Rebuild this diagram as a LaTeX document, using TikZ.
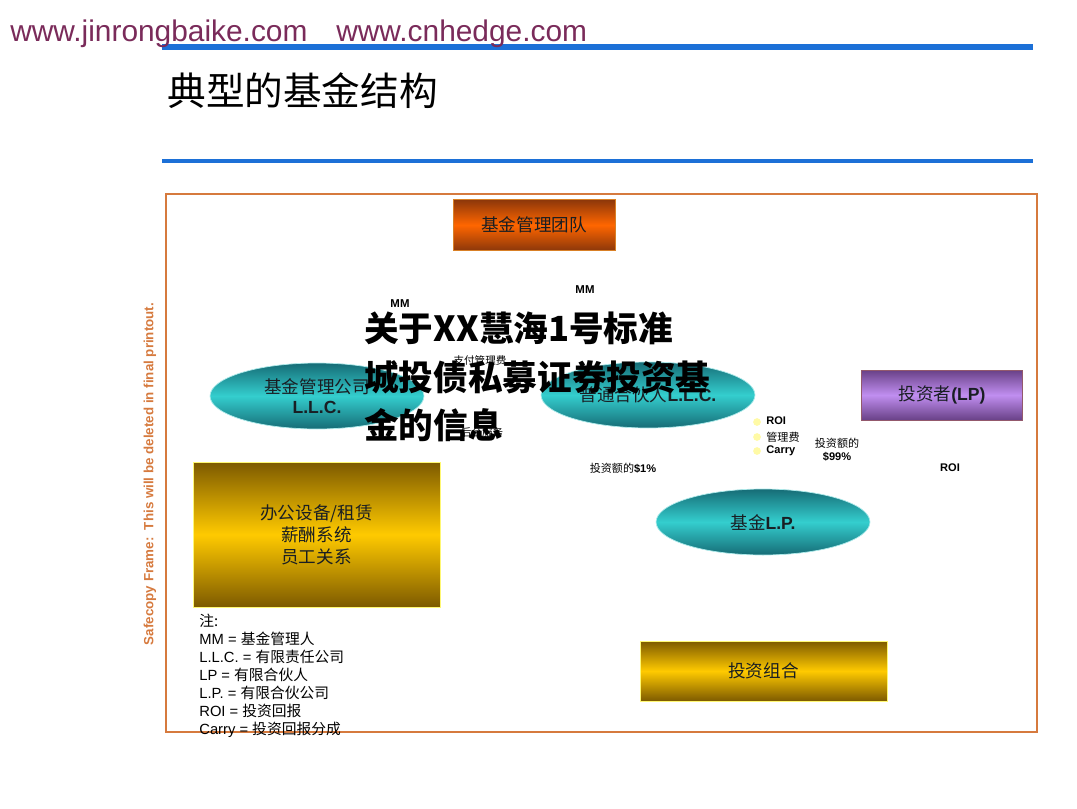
\documentclass[tikz,border=0pt]{standalone}
\usepackage{fontspec}
\setmainfont{Liberation Sans}
\newfontfamily\cjk{Noto Sans CJK SC}
\usetikzlibrary{shapes.geometric}

\definecolor{urlpurple}{RGB}{122,43,90}
\definecolor{lineblue}{RGB}{28,112,215}
\definecolor{frameorange}{RGB}{214,122,62}
\definecolor{tealdark}{RGB}{22,108,118}
\definecolor{teallight}{RGB}{52,206,206}
\definecolor{golddark}{RGB}{125,90,0}
\definecolor{goldlight}{RGB}{255,202,0}
\definecolor{orangedark}{RGB}{140,55,10}
\definecolor{orangelight}{RGB}{255,102,0}
\definecolor{purpledark}{RGB}{105,65,135}
\definecolor{purplelight}{RGB}{192,142,240}
\definecolor{inkdark}{RGB}{25,30,35}

\newcommand{\fsz}[2]{\fontsize{#1}{#2}\selectfont}

\tikzset{
  oval/.style = {ellipse, minimum width=4.28cm, minimum height=1.32cm, inner sep=0pt,
    top color=tealdark, bottom color=tealdark, middle color=teallight,
    draw=teallight!40, align=center, text=inkdark, font=\fsz{10}{12}},
  goldbox/.style = {rectangle, top color=golddark, bottom color=golddark, middle color=goldlight,
    draw=yellow!55, align=center, text=inkdark, font=\fsz{10}{12.5}},
  tag/.style = {inner sep=0pt, font=\fsz{6.3}{7.5}, align=center}
}

\begin{document}
\begin{tikzpicture}[x=0.02cm, y=-0.02cm]

\useasboundingbox (0,0) rectangle (1077,808);

\coordinate (team) at (534,225);
\coordinate (mgr) at (317,396);
\coordinate (gp) at (648,395);
\coordinate (lp) at (942,395);
\coordinate (fund) at (763,522);
\coordinate (office) at (316.5,534.5);
\coordinate (port) at (763.5,671);

% header
\draw[lineblue, line width=3pt] (162,47) -- (1033,47);
\draw[lineblue, line width=2.8pt] (162,161) -- (1033,161);
\node[anchor=west, inner sep=0pt, text=urlpurple, font=\fsz{17}{20}] (url1) at (10,34) {www.jinrongbaike.com};
\node[anchor=west, inner sep=0pt, text=urlpurple, font=\fsz{17}{20}] (url2) at (336,34) {www.cnhedge.com};
\node[anchor=west, inner sep=0pt, font=\cjk\fsz{22}{24}] (title) at (167,91) {典型的基金结构};

% safecopy frame
\draw[frameorange, line width=1.2pt] (166,194) rectangle (1037,732);
\node[rotate=90, inner sep=0pt, text=frameorange, font=\bfseries\fsz{7.6}{9}] (safe) at (150,474) {Safecopy Frame:\ \ This will be deleted in final printout.};

% boxes
\node[rectangle, minimum width=3.24cm, minimum height=1.02cm, top color=orangedark, bottom color=orangedark, middle color=orangelight, draw=orange!40!brown, text=inkdark, font=\cjk\fsz{10}{12}] (teambox) at (team) {基金管理团队};
\node[oval] (mgrbox) at (mgr) {{\cjk 基金管理公司}\\[-1pt]\textbf{L.L.C.}};
\node[oval] (gpbox) at (gp) {{\cjk 普通合伙人}\textbf{L.L.C.}};
\node[rectangle, minimum width=3.22cm, minimum height=1cm, top color=purpledark, bottom color=purpledark, middle color=purplelight, draw=purple!30!gray, text=inkdark, font=\fsz{10}{12}] (lpbox) at (lp) {{\cjk 投资者}\textbf{(LP)}};
\node[oval] (fundbox) at (fund) {{\cjk 基金}\textbf{L.P.}};
\node[goldbox, minimum width=4.94cm, minimum height=2.9cm] (officebox) at (office) {\cjk 办公设备/租赁\\\cjk 薪酬系统\\\cjk 员工关系};
\node[goldbox, minimum width=4.94cm, minimum height=1.2cm] (portbox) at (port) {\cjk 投资组合};

% labels
\node[tag, font=\bfseries\fsz{6.5}{7.5}] (mm1) at (400,304) {MM};
\node[tag, font=\bfseries\fsz{6.5}{7.5}] (mm2) at (585,290) {MM};
\node[tag, font=\cjk\fsz{6}{7}] (fee) at (480,360) {支付管理费};
\node[tag, font=\cjk\fsz{6}{7}] (service) at (482,432) {后台服务};
\fill[yellow!35] (757,422) circle (2.2pt);
\fill[yellow!35] (757,437) circle (2.2pt);
\fill[yellow!35] (757,451) circle (2.2pt);
\node[tag, anchor=west] (roi1) at (766,421) {\textbf{ROI}};
\node[tag, anchor=west] (mgmt) at (766,437) {\cjk 管理费};
\node[tag, anchor=west] (carry) at (766,451) {\textbf{Carry}};
\node[tag] (amt99) at (837,450) {{\cjk 投资额的}\\\textbf{\$99\%}};
\node[tag] (amt1) at (623,468) {{\cjk 投资额的}\textbf{\$1\%}};
\node[tag] (roi2) at (950,468) {\textbf{ROI}};

% notes
\node[anchor=north west, inner sep=0pt, align=left, font=\fsz{8.4}{10.2}] (notes) at (199,614) {%
{\cjk 注:}\\
MM = {\cjk 基金管理人}\\
L.L.C. = {\cjk 有限责任公司}\\
LP = {\cjk 有限合伙人}\\
L.P. = {\cjk 有限合伙公司}\\
ROI = {\cjk 投资回报}\\
Carry = {\cjk 投资回报分成}};

% overlay
\node[anchor=west, inner sep=0pt, align=left, font=\cjk\bfseries\fsz{19.7}{27.5}] (overlay) at (364,377) {关于XX慧海1号标准\\城投债私募证券投资基\\金的信息};

\end{tikzpicture}
\end{document}
